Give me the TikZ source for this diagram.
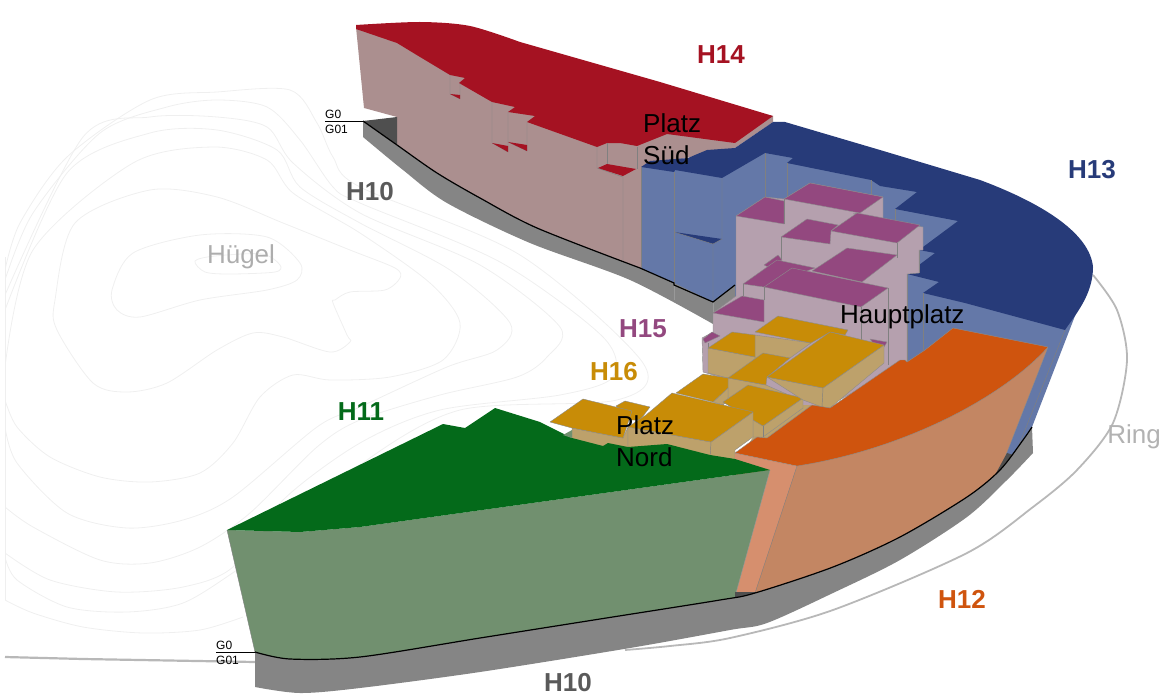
\documentclass[tikz,border=0pt]{standalone}
\usepackage{fontspec}
\setmainfont{Liberation Sans}
\definecolor{rd}{HTML}{A51222}
\definecolor{rdw}{HTML}{AB8F8F}
\definecolor{bl}{HTML}{273B79}
\definecolor{blw}{HTML}{6478A8}
\definecolor{gr}{HTML}{046A1A}
\definecolor{grw}{HTML}{71906F}
\definecolor{orr}{HTML}{CF540E}
\definecolor{orw}{HTML}{C38663}
\definecolor{orl}{HTML}{D68F6E}
\definecolor{pk}{HTML}{93487F}
\definecolor{pkw}{HTML}{B5A0AE}
\definecolor{ye}{HTML}{C88C07}
\definecolor{yew}{HTML}{BDA16B}
\definecolor{bs}{HTML}{858585}
\definecolor{bsd}{HTML}{4F4F4F}
\definecolor{ct}{HTML}{EFEFEF}
\definecolor{rng}{HTML}{B8B8B8}
\definecolor{tg}{HTML}{5A5A5A}
\tikzset{
 contour/.style={draw=ct,line width=0.8pt},
 seam/.style={draw=black!50,line width=0.45pt},
 wall/.style={fill=#1,draw=black!45,line width=0.4pt,line join=round},
 topface/.style={fill=#1,draw=black!45,line width=0.4pt,line join=round},
 plain/.style={fill=#1},
 big/.style={font=\fontsize{26}{26}\selectfont\bfseries,text=#1,inner sep=0pt},
 txt/.style={font=\fontsize{26}{26}\selectfont,text=black,inner sep=0pt},
 gl/.style={font=\fontsize{12}{12}\selectfont,text=black,inner sep=0pt},
 grayt/.style={font=\fontsize{26}{26}\selectfont,text=#1,inner sep=0pt}
}
\begin{document}
\begin{tikzpicture}[x=1pt,y=-1pt]
\useasboundingbox (0,0) rectangle (1174,698);
% ---------- contour lines
\begin{scope}
\clip (5,0) rectangle (700,698);
\draw[contour] plot[smooth cycle] coordinates {(195,261) (215,256) (262,254) (280,265) (275,272) (230,274) (205,272)};
\draw[contour] plot[smooth cycle] coordinates {(112,290) (133,253) (200,235) (267,237) (300,263) (297,280) (267,290) (200,300) (140,317) (117,310)};
\draw[contour] plot[smooth cycle] coordinates {(55,300) (75,223) (150,190) (217,197) (283,223) (350,250) (395,268) (400,278) (385,290) (350,292) (335,300) (333,303) (347,335) (350,342) (330,352) (283,337) (253,333) (217,350) (167,383) (127,392) (93,383) (57,330)};
\draw[contour] plot[smooth] coordinates {(5,367) (33,250) (133,163) (213,147) (267,160) (293,193) (360,233) (430,283) (460,323) (443,360) (390,377) (330,380) (293,375) (260,397) (233,443) (200,473) (150,482) (100,477) (50,457) (17,427) (5,400)};
\draw[contour] plot[smooth] coordinates {(5,310) (67,173) (150,133) (217,130) (277,150) (300,187) (360,223) (450,270) (510,323) (497,350) (447,367) (360,407) (317,427) (233,497) (183,520) (127,528) (67,513) (17,463) (5,427)};
\draw[contour] plot[smooth] coordinates {(5,295) (83,137) (150,117) (217,117) (267,127) (293,163) (360,213) (480,265) (560,327) (547,357) (517,377) (440,395) (360,420) (317,447) (250,513) (200,547) (150,563) (100,560) (33,527) (5,507)};
\draw[contour] plot[smooth] coordinates {(5,280) (33,213) (100,133) (167,107) (217,100) (267,107) (300,140) (333,187) (360,203) (500,262) (603,337) (613,377) (560,395) (440,410) (360,443) (283,500) (233,567) (183,587) (117,592) (50,580) (5,553)};
\draw[contour] plot[smooth] coordinates {(5,270) (20,223) (67,157) (150,100) (217,92) (290,90) (317,123) (333,157) (360,187) (520,255) (643,363) (617,400) (460,410) (360,465) (300,525) (237,570) (183,603) (127,612) (67,607) (17,580) (5,557)};
\draw[contour] plot[smooth] coordinates {(243,617) (200,630) (143,633) (83,627) (33,613) (5,600)};
\end{scope}
\draw[contour] (5,257) -- (5,600);
% ---------- ring
\draw[draw=rng,line width=2.2pt] (5,657) -- (83,659) -- (255,662);
\draw[draw=rng,line width=1.8pt] plot[smooth] coordinates {(1093,275) (1117,310) (1127,360) (1113,423) (1077,470) (1033,507) (967,553) (833,610) (730,638) (670,646) (625,650)};
% ---------- H14
\fill[plain=rdw] (356,27) -- (364,108) -- (397,117) -- (397,150) -- (480,205) -- (641,275) -- (641,167) -- (735,148) -- (773,122) -- (773,116) -- (660,95) -- (500,60) -- (420,35) -- cycle;
\fill[plain=rd] plot[smooth] coordinates {(356,25) (420,22) (470,26) (520,42)} -- (660,82) -- (773,116) -- (735,143) -- (667,134) -- (637,146) -- (620,143) -- (607,143) -- (597,147) -- (527,122) -- (535,116) -- (508,112) -- (515,107) -- (492,102) -- (459,83) -- (465,78) -- (450,75) -- (420,57) -- (397,43) -- (356,29) -- cycle;
\draw[seam] (450,75) -- (450,94) -- (460,99) -- (460,83);
\draw[seam] (492,102) -- (492,143) -- (508,152) -- (508,112);
\draw[seam] (508,142) -- (527,151) -- (527,122);
\draw[seam] (597,147) -- (597,168) -- (623,177) -- (623,262);
\draw[seam] (607,143) -- (607,164);
\draw[seam] (637,147) -- (637,169);
\fill[plain=rd] (450,94) -- (460,95) -- (460,99) -- cycle;
\fill[plain=rd] (492,143) -- (508,146) -- (508,152) -- cycle;
\fill[plain=rd] (508,142) -- (527,145) -- (527,151) -- cycle;
\fill[plain=rd] (607,164) -- (636,169) -- (623,176) -- (598,168) -- cycle;
% ---------- H13
\fill[plain=blw] (641,167) -- (700,160) -- (790,140) -- (950,200) -- (1085,290) -- (1032,427) -- (1000,480) -- (900,400) -- (736,300) -- (713,310) -- (641,275) -- cycle;
\fill[plain=bl] (785,122) -- (880,150) -- (980,180) .. controls (1047,205) and (1090,235) .. (1093,267) .. controls (1093,295) and (1075,315) .. (1065,330) -- (965,303) -- (923,293) -- (939,282) -- (907,274) -- (935,253) -- (919,250) -- (958,221) -- (895,209) -- (917,192) -- (880,186) -- (871,180) -- (787,163) -- (793,158) -- (765,153) -- (722,178) -- (675,170) -- (674,172) -- (641,167) -- (650,161) -- (688,158) -- (695,155) -- (707,150) -- (735,148) -- (773,122) -- cycle;
\fill[plain=bl] (674,232) -- (722,239) -- (713,244) -- cycle;
\draw[seam] (641,167) -- (641,268);
\draw[seam] (674,172) -- (674,283);
\draw[seam] (722,178) -- (722,239) -- (713,244) -- (713,302);
\draw[seam] (674,232) -- (713,244);
\draw[seam] (765,153) -- (765,197);
\draw[seam] (787,163) -- (787,200);
\draw[seam] (871,180) -- (871,200);
\draw[seam] (895,209) -- (895,222);
\draw[seam] (919,250) -- (919,273);
\draw[seam] (907,274) -- (907,362);
\draw[seam] (923,293) -- (923,350);
\draw[seam] (1065,330) -- (1017,450);
% ---------- back base
\fill[plain=bs] plot[smooth] coordinates {(363,121) (397,145) (437,173) (480,198) (537,228) (640,268)} -- (674,283) -- (713,302) -- (735,285) -- (735,297) -- (713,324) -- plot[smooth] coordinates {(713,324) (630,280) (530,243) (447,203) (403,170) (363,137)} -- cycle;
\fill[plain=bsd] (363,121) -- (397,117) -- (397,145) -- cycle;
\draw[draw=black!40,line width=0.4pt] (674,283) -- (674,300) (713,302) -- (713,324);
\draw[black,line width=1.2pt] plot[smooth] coordinates {(363,121) (397,145) (437,173) (480,198) (537,228) (640,268)} -- (674,283) -- (674,285) -- (713,302) -- (735,285);
\draw[black,line width=0.7pt] (325,121) -- (363,121);
% ---------- H15 walls
\filldraw[wall=pkw] (736,216) -- (765,197) -- (784,199) -- (810,183) -- (883,197) -- (883,222) -- (923,227) -- (923,250) -- (919,250) -- (919,273) -- (907,274) -- (907,365) -- (800,420) -- (713,375) -- (703,372) -- (702,338) -- (713,332) -- (713,313) -- (736,296) -- cycle;
% tops
\filldraw[topface=pk] (736,216) -- (765,197) -- (784,201) -- (784,224) -- cycle;
\draw[seam] (784,199) -- (784,224);
\filldraw[topface=pk] (784,199) -- (810,183) -- (883,197) -- (860,213) -- cycle;
\draw[seam] (860,213) -- (853,214);
\filldraw[topface=pk] (781,237) -- (807,219) -- (838,225) -- (831,231) -- (830,244) -- cycle;
\draw[seam] (781,237) -- (781,260);
\filldraw[topface=pk] (831,231) -- (857,213) -- (920,225) -- (897,243) -- cycle;
\draw[seam] (897,243) -- (897,258);
\filldraw[topface=pk] (812,271) -- (847,248) -- (897,255) -- (862,282) -- cycle;
\filldraw[topface=pk] (764,265) -- (778,255) -- (782,260) -- (770,268) -- cycle;
\filldraw[topface=pk] (743,284) -- (777,260) -- (815,268) -- (764,287) -- cycle;
\filldraw[topface=pk] (764,287) -- (792,268) -- (888,288) -- (861,307) -- cycle;
\draw[seam] (743,284) -- (743,296);
\draw[seam] (764,287) -- (764,300);
\draw[seam] (861,307) -- (861,340);
\draw[seam] (888,288) -- (888,365);
\filldraw[topface=pk] (713,313) -- (742,296) -- (764,300) -- (764,322) -- cycle;
\filldraw[topface=pk] (703,339) -- (712,332) -- (720,336) -- (705,343) -- cycle;
\draw[seam] (708,343) -- (708,372);
\filldraw[topface=pk] (870,339) -- (887,342) -- (884,347) -- (873,343) -- cycle;
% ---------- H16
\filldraw[wall=yew] (755,335) -- (811,343) -- (790,358) -- (755,358) -- cycle;
\filldraw[topface=ye] (755,332) -- (778,316) -- (848,330) -- (845,335) -- (830,332) -- (811,343) -- cycle;
\filldraw[wall=yew] (708,348) -- (755,357) -- (755,365) -- (728,378) -- (708,373) -- cycle;
\filldraw[topface=ye] (708,348) -- (732,332) -- (755,335) -- (755,357) -- cycle;
\filldraw[wall=yew] (728,378) -- (766,385) -- (800,400) -- (760,440) -- (728,397) -- cycle;
\filldraw[topface=ye] (728,378) -- (763,353) -- (790,358) -- (767,377) -- (766,385) -- cycle;
\filldraw[wall=yew] (713,402) -- (728,388) -- (728,400) -- (723,405) -- cycle;
\filldraw[topface=ye] (676,393) -- (703,374) -- (728,378) -- (728,388) -- (713,402) -- cycle;
\fill[plain=yew] (753,437) -- (803,405) -- (835,405) -- (767,442) -- (750,442) -- cycle;
\filldraw[wall=yew] (723,402) -- (763,426) -- (803,398) -- (803,408) -- (763,437) -- (753,437) -- (753,412) -- cycle;
\filldraw[topface=ye] (723,402) -- (748,385) -- (803,398) -- (763,426) -- cycle;
\draw[seam] (763,426) -- (763,437);
\filldraw[wall=yew] (767,377) -- (823,388) -- (884,345) -- (884,363) -- (830,408) -- (822,407) -- (803,400) -- cycle;
\filldraw[topface=ye] (767,377) -- (830,332) -- (884,345) -- (823,388) -- cycle;
\draw[seam] (823,388) -- (822,407);
\filldraw[topface=ye] (616,406) -- (625,401) -- (650,407) -- (640,420) -- (630,420) -- cycle;
\filldraw[wall=yew] (572,428) -- (623,438) -- (628,427) -- (628,450) -- (608,445) -- (603,448) -- (572,440) -- cycle;
\filldraw[topface=ye] (550,422) -- (583,399) -- (632,411) -- (623,438) -- (572,428) -- cycle;
\filldraw[wall=yew] (628,427) -- (711,442) -- (753,412) -- (753,437) -- (735,450) -- (735,462) -- (710,458) -- (667,446) -- (628,450) -- cycle;
\filldraw[topface=ye] (628,427) -- (646,415) -- (672,393) -- (753,412) -- (711,442) -- cycle;
\draw[seam] (711,442) -- (710,458);
% ---------- H12 wall and top
\fill[plain=orl] (735,453) -- (797,466) -- (762,610) -- (735,610) -- cycle;
\fill[plain=orw] (797,466) -- (900,420) -- (980,370) -- (1048,347) -- (1000,470) -- (985,495) -- (900,550) -- (755,610) -- (755,593) -- cycle;
\draw[draw=black!50,line width=0.4pt] (797,466) -- (755,593);
\draw[draw=black!45,line width=0.4pt] (1048,347) -- (1000,470);
\filldraw[topface=orr] (735,453) -- (757,437) -- (767,438) -- (812,405) -- (830,408) -- (900,360) -- (905,360) -- (907,362) -- (925,350) -- (953,328) -- (1048,347) .. controls (1000,400) and (900,450) .. (797,466) -- cycle;
\fill[plain=bsd] (1007,453) -- (1013,455) -- (1000,475) -- (995,475) -- cycle;
% ---------- H11
\fill[plain=grw] (227,530) -- (300,532) -- (360,527) -- (770,470) -- (736,593) -- (736,610) -- (360,670) -- (258,665) -- cycle;
\draw[draw=black!50,line width=0.4pt] (227,530) -- (255,652);
\draw[draw=black!40,line width=0.4pt] (770,470) -- (736,593);
\filldraw[topface=gr,draw=none] (227,530) -- (443,424) -- (465,428) -- (495,408) -- (540,422) -- (572,438) -- (603,446) -- (608,443) -- (628,447) -- (667,444) -- (710,455) -- (735,459) -- (770,470) -- (360,527) -- (300,532) -- cycle;
\fill[plain=grw] (563,435) -- (572,430) -- (572,438) -- cycle;
\fill[plain=bsd] (735,592) -- (755,592) -- (755,596) -- (735,598) -- cycle;
% ---------- front base
\fill[plain=bs] (255,652) -- plot[smooth] coordinates {(255,652) (290,659) (360,657) (480,638) (600,619) (720,600) (755,593) (833,567) (900,537) (967,497) (1000,470) (1023,440) (1032,427)} -- (1033,453) -- plot[smooth] coordinates {(1033,453) (1007,480) (967,517) (900,560) (833,593) (767,623) (730,630) (630,648) (480,672) (360,688) (300,693) (255,687)} -- cycle;
\draw[black,line width=1.2pt] plot[smooth] coordinates {(255,652) (290,659) (360,657) (480,638) (600,619) (720,600) (755,593) (833,567) (900,537) (967,497) (1000,470) (1023,440) (1032,427)};
\draw[black,line width=0.7pt] (216,652.5) -- (255,652.5);
% ---------- labels
\node[big=rd] (h14) at (721,55) {H14};
\node[big=bl] (h13) at (1092,170) {H13};
\node[big=tg] (h10a) at (370,192) {H10};
\node[big=pk] (h15) at (643,329) {H15};
\node[big=ye] (h16) at (614,372) {H16};
\node[big=gr] (h11) at (361,412) {H11};
\node[big=orr] (h12) at (962,599) {H12};
\node[big=tg] (h10b) at (568,683) {H10};
\node[txt,anchor=west] (psued1) at (643,123) {Platz};
\node[txt,anchor=west] (psued2) at (643,155) {Süd};
\node[txt,anchor=west] (pnord1) at (616,425) {Platz};
\node[txt,anchor=west] (pnord2) at (616,457) {Nord};
\node[txt,anchor=west] (hp) at (840,317) {Hauptplatz};
\node[grayt=black!32] (huegel) at (241,257) {Hügel};
\node[grayt=black!30] (ring) at (1134,437) {Ring};
\node[gl,anchor=west] (g0a) at (325,114) {G0};
\node[gl,anchor=west] (g01a) at (325,129) {G01};
\node[gl,anchor=west] (g0b) at (216,645) {G0};
\node[gl,anchor=west] (g01b) at (216,660) {G01};
\end{tikzpicture}
\end{document}
